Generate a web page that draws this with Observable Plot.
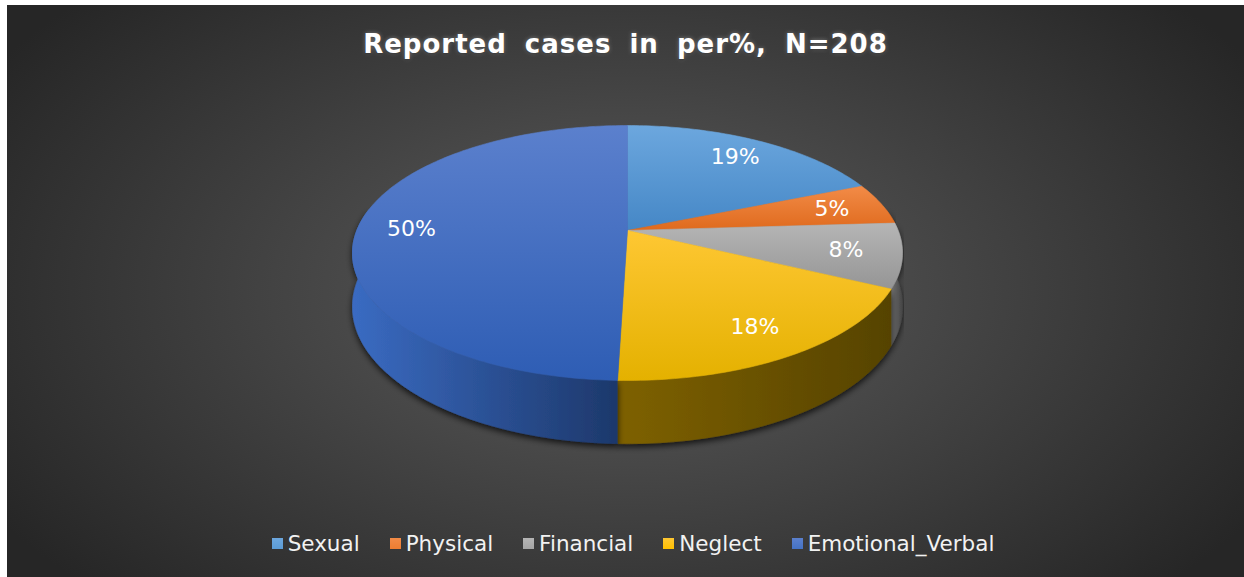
<!DOCTYPE html>
<html>
<head>
<meta charset="utf-8">
<script src="https://cdn.jsdelivr.net/npm/d3@7"></script>
<script src="https://cdn.jsdelivr.net/npm/@observablehq/plot@0.6"></script>
<style>
  html, body { margin: 0; padding: 0; background: #ffffff; }
  #wrap {
    position: absolute; left: 7px; top: 5px; width: 1237px; height: 572px; overflow: hidden;
    background: radial-gradient(ellipse 60% 75% at 50% 50%, #525252 0%, #4a4a4a 35%, #262626 100%);
  }
  #title {
    position: absolute; left: 0; top: 24px; width: 1237px; text-align: center;
    font: bold 26px "DejaVu Sans", sans-serif; line-height: 30px;
    letter-spacing: 1px; word-spacing: 8px; color: #ffffff;
    text-shadow: 0 0 4px rgba(255,255,255,0.35), 0 1px 2px rgba(0,0,0,0.5);
  }
  #chart { position: absolute; left: 0; top: 0; }
  #legend {
    position: absolute; left: 0; top: 525.5px; width: 1237px; box-sizing: border-box; padding-left: 15px;
    display: flex; justify-content: center; align-items: center; gap: 30px;
    font: 21.5px "DejaVu Sans", sans-serif; line-height: 26px; color: #f2f2f2;
  }
  .item { display: flex; align-items: center; gap: 5px; }
  .sw { width: 11px; height: 11px; display: inline-block; }
</style>
</head>
<body>
<div id="wrap">
  <div id="chart"></div>
  <div id="title"></div>
  <div id="legend"></div>
</div>
<script>
// ---- data ----
const titleText = "Reported cases in per%, N=208";
const categories = ["Sexual", "Physical", "Financial", "Neglect", "Emotional_Verbal"];
const counts = [39, 11, 17, 38, 103];   // N = 208
const percentLabels = ["19%", "5%", "8%", "18%", "50%"];

// ---- palette ----
const baseColors = ["#5b9bd5", "#ed7d31", "#a5a5a5", "#ffc000", "#4472c4"];
const topLight  = ["#6ca7de", "#f28b47", "#b5b5b5", "#fec733", "#5b80cd"];
const topDark   = ["#4587c6", "#df6a1d", "#959595", "#e4b100", "#2e5db4"];
const sideLight = ["#3f6f99", "#9a5020", "#707070", "#7e6100", "#3a6bc2"];
const sideDark  = ["#2a4a68", "#6a3510", "#454545", "#564300", "#1d386b"];

// ---- 3D perspective pie geometry ----
const W = 1237, H = 572;
const G = {cx: 620, cy: 225, A: 270.7, B: 123.5, k: 0.1765, D: 52, labelR: 0.8};
function proj(r, deg, h) {
  const t = deg * Math.PI / 180;
  const u = r * Math.sin(t), v = r * Math.cos(t);
  const w = 1 + G.k * v;
  return {x: G.cx + G.A * u / w, y: G.cy - G.B * v / w + h * G.D / w};
}
function arc(a0, a1, h) {
  const n = Math.max(2, Math.ceil(Math.abs(a1 - a0)));
  const pts = [];
  for (let i = 0; i <= n; i++) pts.push(proj(1, a0 + (a1 - a0) * i / n, h));
  return pts;
}

const total = d3.sum(counts);
let acc = 0;
const slices = categories.map((c, i) => {
  const a0 = acc / total * 360;
  acc += counts[i];
  const a1 = acc / total * 360;
  return {c, i, a0, a1};
});

// render hook: paint a mark's group with an SVG gradient / filter
function painter(url, filter) {
  return (index, scales, values, dims, context, next) => {
    const g = next(index, scales, values, dims, context);
    g.setAttribute("fill", url);
    g.setAttribute("stroke", url);
    g.querySelectorAll("path").forEach(p => { p.setAttribute("fill", url); p.setAttribute("stroke", url); });
    if (filter) g.setAttribute("filter", filter);
    return g;
  };
}

const sideMarks = [], topMarks = [], labelData = [];
for (const s of slices) {
  const top = [proj(0, 0, 0), ...arc(s.a0, s.a1, 0), proj(0, 0, 0)];
  topMarks.push(Plot.line(top, {x: "x", y: "y", fill: baseColors[s.i], stroke: baseColors[s.i], strokeWidth: 0.6, curve: "linear",
    render: painter(`url(#gtop${s.i})`)}));

  const lo = Math.max(s.a0, 80), hi = Math.min(s.a1, 280);
  if (lo < hi) {
    const side = [...arc(lo, hi, 0), ...arc(hi, lo, 1)];
    sideMarks.push(Plot.line(side, {x: "x", y: "y", fill: sideDark[s.i], stroke: sideDark[s.i], strokeWidth: 0.6, curve: "linear",
      render: painter(`url(#gside${s.i})`, "url(#pieShadow)")}));
  }
  const mid = (s.a0 + s.a1) / 2;
  labelData.push({text: percentLabels[s.i], ...proj(G.labelR, mid, 0)});
}

const plot = Plot.plot({
  width: W, height: H,
  margin: 0,
  style: {background: "transparent", overflow: "visible"},
  x: {type: "linear", domain: [0, W], range: [0, W], axis: null},
  y: {type: "linear", domain: [0, H], range: [0, H], axis: null},
  marks: [
    ...sideMarks,
    ...topMarks,
    Plot.text(labelData, {x: "x", y: "y", text: "text", fill: "#ffffff", fontSize: 22, fontFamily: "DejaVu Sans", textAnchor: "middle", lineAnchor: "middle"})
  ]
});

// gradients and shadow
const ns = "http://www.w3.org/2000/svg";
const defs = document.createElementNS(ns, "defs");
let html = "";
categories.forEach((c, i) => {
  html += `<linearGradient id="gtop${i}" x1="0" y1="0" x2="0" y2="1"><stop offset="0" stop-color="${topLight[i]}"/><stop offset="1" stop-color="${topDark[i]}"/></linearGradient>`;
  html += `<linearGradient id="gside${i}" x1="0" y1="0" x2="1" y2="0"><stop offset="0" stop-color="${sideLight[i]}"/><stop offset="1" stop-color="${sideDark[i]}"/></linearGradient>`;
});
html += `<filter id="pieShadow" x="-10%" y="-10%" width="120%" height="140%"><feDropShadow dx="0" dy="3" stdDeviation="3" flood-color="#000" flood-opacity="0.75"/></filter>`;
defs.innerHTML = html;
plot.insertBefore(defs, plot.firstChild);

document.getElementById("chart").appendChild(plot);
document.getElementById("title").textContent = titleText;

const legend = document.getElementById("legend");
categories.forEach((c, i) => {
  const item = document.createElement("div");
  item.className = "item";
  const sw = document.createElement("span");
  sw.className = "sw";
  sw.style.background = `linear-gradient(${topLight[i]}, ${baseColors[i]})`;
  const t = document.createElement("span");
  t.textContent = c;
  item.appendChild(sw); item.appendChild(t);
  legend.appendChild(item);
});
</script>
</body>
</html>
